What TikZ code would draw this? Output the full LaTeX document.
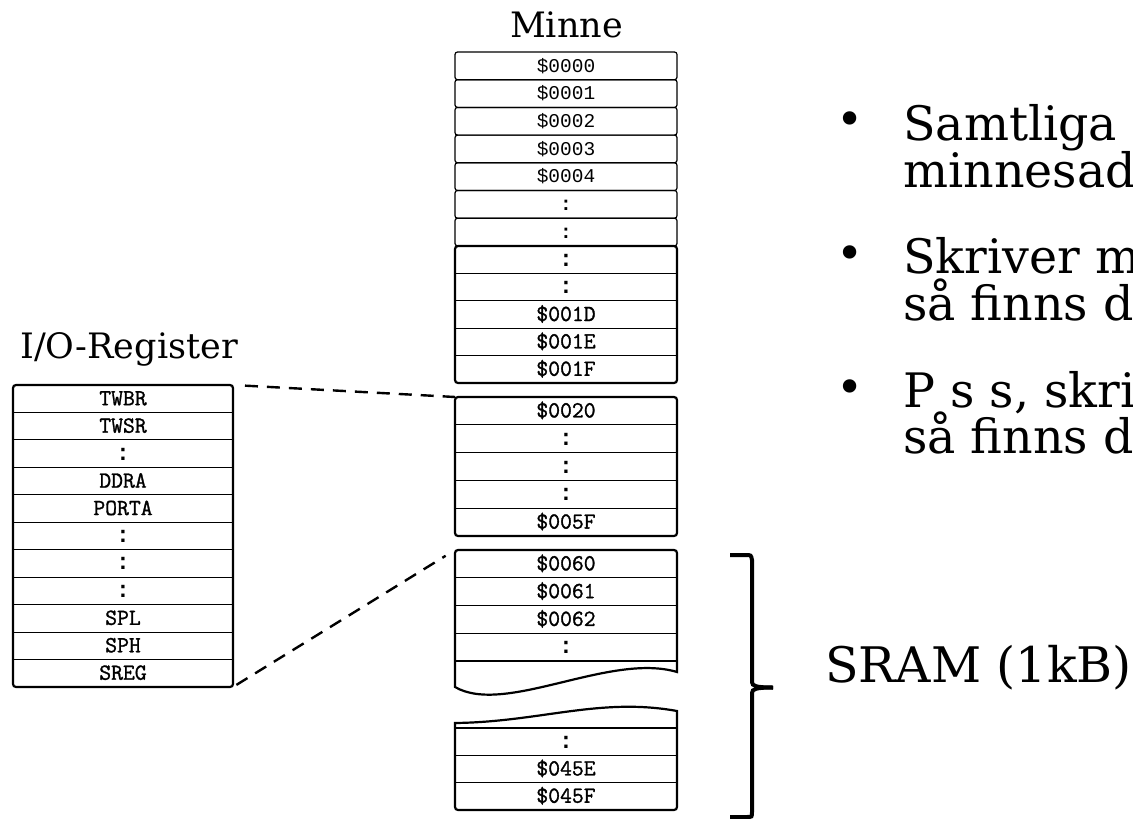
\documentclass[tikz,border=0pt]{standalone}
\usepackage{fontspec}
\setmainfont{DejaVu Serif}
\setmonofont{Liberation Mono}
\newfontfamily\slabmono{Latin Modern Mono}[AutoFakeBold=1.3]
\newfontfamily\colonfont{Liberation Mono}
\newcommand\colonmark{{\colonfont\bfseries :}}
\newcommand\cellfont{\fontsize{19.5}{20}\selectfont\ttfamily}
\newcommand\slabfont{\fontsize{23}{23}\selectfont\slabmono\bfseries}
\begin{document}
\begin{tikzpicture}[x=1pt,y=-1pt,
  toprow/.style={draw, line width=1.2pt, rounded corners=2.5pt,
    minimum width=222pt, minimum height=27.7pt, anchor=north west,
    inner sep=0pt, outer sep=0pt, font=\cellfont,
    text height=12.5pt, text depth=0pt},
  rowtxt/.style={minimum width=222pt, anchor=north west,
    inner sep=0pt, outer sep=0pt, font=\slabfont,
    text height=13pt, text depth=0pt},
  sep/.style={line width=1.1pt},
  outline/.style={draw, line width=2.2pt, rounded corners=3pt},
  link/.style={line width=2.4pt, dash pattern=on 13pt off 9pt},
  brc/.style={line width=4pt},
  title/.style={font=\fontsize{35}{35}\selectfont, inner sep=0pt},
  bullettext/.style={font=\fontsize{47.5}{48}\selectfont, anchor=base west, inner sep=0pt},
  bulletmark/.style={font=\fontsize{46}{46}\selectfont, inner sep=0pt},
]
\useasboundingbox (0,0) rectangle (1133,819);
\fill[white] (0,0) rectangle (1133,819);
\clip (0,0) rectangle (1133,819);

% ---- titles
\node[title, anchor=base] (minne) at (566.5,37) {Minne};
\node[title, anchor=base west] (iotitle) at (20,358) {I/O-Register};

% ---- memory: single rows $0000 ...
\foreach \lbl [count=\i from 0] in {\$0000,\$0001,\$0002,\$0003,\$0004,\colonmark,\colonmark}
  \node[toprow] (m\i) at (455,52+27.7*\i) {\lbl};

% ---- group: $001x registers
\foreach \lbl [count=\i from 0] in {\colonmark,\colonmark,\$001D,\$001E,\$001F}
  \node[rowtxt, minimum height=27.4pt] (a\i) at (455,246+27.4*\i) {\lbl};
\foreach \i in {0,...,3}
  \draw[sep] (a\i.south west) -- (a\i.south east);
\node[outline, minimum width=222pt, minimum height=137pt, anchor=north west,
  inner sep=0pt, outer sep=0pt] (ga) at (455,246) {};

% ---- group: I/O space $0020 ... $005F
\foreach \lbl [count=\i from 0] in {\$0020,\colonmark,\colonmark,\colonmark,\$005F}
  \node[rowtxt, minimum height=27.8pt] (b\i) at (455,397+27.8*\i) {\lbl};
\foreach \i in {0,...,3}
  \draw[sep] (b\i.south west) -- (b\i.south east);
\node[outline, minimum width=222pt, minimum height=139pt, anchor=north west,
  inner sep=0pt, outer sep=0pt] (gb) at (455,397) {};

% ---- SRAM, upper part with torn edge
\foreach \lbl [count=\i from 0] in {\$0060,\$0061,\$0062,\colonmark}
  \node[rowtxt, minimum height=27.75pt] (c\i) at (455,550+27.75*\i) {\lbl};
\foreach \i in {0,...,3}
  \draw[sep] (c\i.south west) -- (c\i.south east);
\coordinate (gc) at (455,550);
\draw[line width=2.2pt] (455,687) [rounded corners=3pt] -- (gc) -- (677,550)
  [sharp corners] -- (677,672)
  .. controls (610,652) and (505,716) .. cycle;

% ---- SRAM, lower part with torn edge
\foreach \lbl [count=\i from 0] in {\colonmark,\$045E,\$045F}
  \node[rowtxt, minimum height=27.3pt] (d\i) at (455,728+27.3*\i) {\lbl};
\draw[sep] (455,728) -- (677,728);
\foreach \i in {0,1}
  \draw[sep] (d\i.south west) -- (d\i.south east);
\draw[line width=2.2pt] (455,723) .. controls (540,722) and (600,697) .. (677,711)
  [rounded corners=3pt] -- (677,810) -- (455,810) [sharp corners] -- cycle;

% ---- I/O register file
\foreach \lbl [count=\i from 0] in {TWBR,TWSR,\colonmark,DDRA,PORTA,\colonmark,\colonmark,\colonmark,SPL,SPH,SREG}
  \node[rowtxt, minimum width=220pt, minimum height=27.45pt] (r\i) at (13,385+27.45*\i) {\lbl};
\foreach \i in {0,...,9}
  \draw[sep] (r\i.south west) -- (r\i.south east);
\node[outline, minimum width=220pt, minimum height=302pt, anchor=north west,
  inner sep=0pt, outer sep=0pt] (io) at (13,385) {};

% ---- mapping of the register file into the address space
\draw[link, shorten <=12pt] (io.north east) -- (gb.north west);
\draw[link, shorten <=4pt, shorten >=11pt] (io.south east) -- (gc);

% ---- brace marking the SRAM
\draw[brc] (730,555) -- (746,555) .. controls (751,555) .. (752,560) -- (752,682)
  .. controls (752,686) and (756,687.5) .. (773,687.5);
\draw[brc] (773,687.5) .. controls (756,687.5) and (752,689) .. (752,693) -- (752,812)
  .. controls (752,817) .. (747,817) -- (730,817);
\node[font=\fontsize{49}{49}\selectfont, anchor=base west, inner sep=0pt] (sram) at (825,682) {SRAM (1kB)};

% ---- bullet list
\foreach \y [count=\k] in {124,258,392}
  \node[bulletmark] (b\k mark) at (850,\y) {•};
\node[bullettext] (t1) at (903,140) {Samtliga};
\node[bullettext] (t2) at (903,187) {minnesad};
\node[bullettext] (t3) at (903,273) {Skriver m};
\node[bullettext] (t4) at (903,320) {så finns d};
\node[bullettext] (t5) at (903,407) {P s s, skri};
\node[bullettext] (t6) at (903,453) {så finns d};
\end{tikzpicture}
\end{document}
